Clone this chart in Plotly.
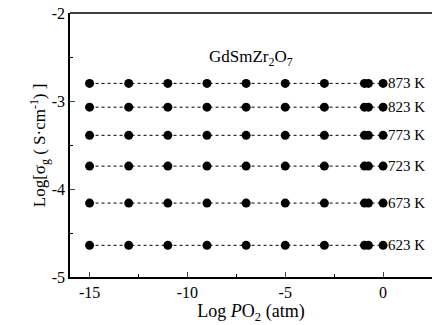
import plotly.graph_objects as go

log_po2 = [-15, -13, -11, -9, -7, -5, -3, -0.95, -0.75, 0]
temps = ["873 K", "823 K", "773 K", "723 K", "673 K", "623 K"]
log_sigma = [-2.80, -3.07, -3.39, -3.74, -4.16, -4.64]

FONT = "Liberation Serif"

fig = go.Figure()
for t, s in zip(temps, log_sigma):
    fig.add_trace(go.Scatter(
        x=log_po2, y=[s] * len(log_po2), mode="lines+markers",
        line=dict(color="black", width=1, dash="dot"),
        marker=dict(color="black", size=9),
        showlegend=False, name=t))
    fig.add_annotation(x=0.15, y=s, text=t, showarrow=False, xanchor="left",
                       font=dict(family=FONT, size=15, color="black"))

fig.add_annotation(x=0.5, y=0.88, xref="paper", yref="paper",
                   text="GdSmZr<sub>2</sub>O<sub>7</sub>", showarrow=False,
                   font=dict(family=FONT, size=17, color="black"))

fig.add_annotation(x=-0.125, y=0.5, xref="paper", yref="paper", textangle=-90,
                   text="Log[σ<sub>g</sub> ( S·cm<sup>-1</sup>) ]", showarrow=False,
                   font=dict(family=FONT, size=17, color="black"))

fig.add_shape(type="line", xref="paper", yref="paper", x0=0, x1=1, y0=1, y1=1,
              line=dict(color="black", width=1.5))

fig.update_layout(
    width=432, height=325,
    margin=dict(l=70, r=0, t=13, b=48),
    paper_bgcolor="white", plot_bgcolor="white",
    font=dict(family=FONT, size=16, color="black"),
    xaxis=dict(range=[-16, 2.5], tickvals=[-15, -10, -5, 0], ticktext=["-15", "-10", "-5", "0"],
               ticks="inside", ticklen=5, tickwidth=1, showline=True, linecolor="black", linewidth=1.5,
               showgrid=False, zeroline=False,
               minor=dict(tickvals=[-12.5, -7.5, -2.5], ticks="inside", ticklen=3, tickcolor="black"),
               title=dict(text="Log <i>P</i>O<sub>2</sub> (atm)", font=dict(family=FONT, size=18), standoff=2)),
    yaxis=dict(range=[-5, -2], tickvals=[-5, -4, -3, -2], ticktext=["-5", "-4", "-3", "-2"],
               ticks="inside", ticklen=5, tickwidth=1, showline=True, linecolor="black", linewidth=1.5,
               showgrid=False, zeroline=False,
               minor=dict(tickvals=[-4.5, -3.5, -2.5], ticks="inside", ticklen=3, tickcolor="black")),
)

fig.write_html("out.html")
